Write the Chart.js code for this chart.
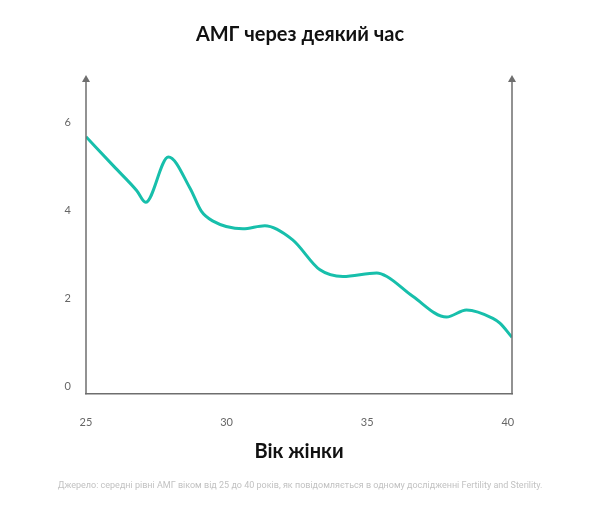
<!DOCTYPE html>
<html>
<head>
<meta charset="utf-8">
<script src="https://cdn.jsdelivr.net/npm/chart.js@4.4.0/dist/chart.umd.min.js"></script>
<style>
  html, body { margin: 0; padding: 0; background: #fff; }
  #amh-chart { display: block; }
</style>
</head>
<body>
<canvas id="amh-chart" width="600" height="508"></canvas>
<script>
// values
const ages = [25, 26, 26.8, 27.12, 27.93, 28.7, 29.1, 29.5, 30.58, 31.36, 32.35, 33.32, 34.14, 35.34, 35.7, 36.62, 37.82, 38.53, 39.47, 39.72, 40.15];
const amhLevels = [5.67, 4.99, 4.45, 4.18, 5.21, 4.5, 3.98, 3.76, 3.58, 3.65, 3.33, 2.65, 2.5, 2.58, 2.5, 2.05, 1.58, 1.74, 1.55, 1.44, 1.12];
const xTicks = [25, 30, 35, 40];
const yTicks = [0, 2, 4, 6];

const axisColor = '#6e6e6e';

// vertical axes with arrow heads on the left and right edges
const arrowAxes = {
  id: 'arrowAxes',
  afterDraw(chart) {
    const { ctx, chartArea } = chart;
    const tip = chartArea.top - 3;
    ctx.save();
    ctx.strokeStyle = axisColor;
    ctx.fillStyle = axisColor;
    ctx.lineWidth = 1.5;
    [chartArea.left, chartArea.right].forEach(x => {
      ctx.beginPath();
      ctx.moveTo(x, chartArea.bottom);
      ctx.lineTo(x, tip + 5);
      ctx.stroke();
      ctx.beginPath();
      ctx.moveTo(x, tip);
      ctx.lineTo(x - 4, tip + 7);
      ctx.lineTo(x + 4, tip + 7);
      ctx.closePath();
      ctx.fill();
    });
    ctx.restore();
  }
};

new Chart(document.getElementById('amh-chart'), {
  type: 'line',
  data: {
    datasets: [{
      data: ages.map((a, i) => ({ x: a, y: amhLevels[i] })),
      borderColor: '#17bfab',
      borderWidth: 3,
      pointRadius: 0,
      cubicInterpolationMode: 'monotone',
      fill: false
    }]
  },
  options: {
    responsive: false,
    animation: false,
    plugins: {
      legend: { display: false },
      tooltip: { enabled: false },
      title: {
        display: true,
        text: 'АМГ через деякий час',
        color: '#111',
        font: { family: 'Lato', size: 20, weight: 'bold' },
        padding: { top: 23, bottom: 31 }
      },
      subtitle: {
        display: true,
        position: 'bottom',
        text: 'Джерело: середні рівні АМГ віком від 25 до 40 років, як повідомляється в одному дослідженні Fertility and Sterility.',
        color: '#c2c2c2',
        font: { family: 'Roboto', size: 9 },
        padding: { top: 0, bottom: 17 }
      }
    },
    scales: {
      x: {
        type: 'linear',
        min: 25,
        max: 40.15,
        afterBuildTicks: s => { s.ticks = xTicks.map(v => ({ value: v })); },
        afterFit: s => { s.height = 86; },
        grid: { display: false, drawTicks: false },
        border: { display: true, color: axisColor, width: 1.5 },
        ticks: { color: '#666', padding: 22, font: { family: 'Lato', size: 11 } },
        title: {
          display: true,
          text: 'Вік жінки',
          color: '#111',
          font: { family: 'Lato', size: 20, weight: 'bold' },
          padding: { top: 10, bottom: 17 }
        }
      },
      y: {
        min: -0.17,
        max: 7,
        afterBuildTicks: s => { s.ticks = yTicks.map(v => ({ value: v })); },
        afterFit: s => { s.width = 86; },
        grid: { display: false, drawTicks: false },
        border: { display: false },
        ticks: { color: '#666', padding: 15, font: { family: 'Lato', size: 11 } }
      },
      // empty right-hand axis that only reserves the margin
      yRight: {
        position: 'right',
        min: -0.17,
        max: 7,
        afterFit: s => { s.width = 88; },
        grid: { display: false, drawTicks: false },
        border: { display: false },
        ticks: { display: false }
      }
    }
  },
  plugins: [arrowAxes]
});
</script>
</body>
</html>
